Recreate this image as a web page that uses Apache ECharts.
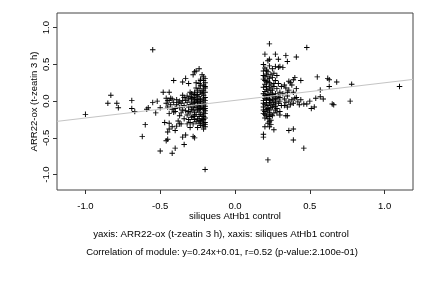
<!DOCTYPE html>
<html>
<head>
<meta charset="utf-8">
<script src="https://cdn.jsdelivr.net/npm/echarts@6/dist/echarts.min.js"></script>
<style>html,body{margin:0;padding:0;background:#fff;}#c{width:432px;height:288px;}</style>
</head>
<body>
<div id="c"></div>
<script>
// ---- data ----
const xTicks = [-1.0, -0.5, 0.0, 0.5, 1.0];
const yTicks = [-1.0, -0.5, 0.0, 0.5, 1.0];
const xTitle = 'siliques AtHb1 control';
const yTitle = 'ARR22-ox (t-zeatin 3 h)';
const subtitle1 = 'yaxis: ARR22-ox (t-zeatin 3 h), xaxis: siliques AtHb1 control';
const subtitle2 = 'Correlation of module: y=0.24x+0.01, r=0.52 (p-value:2.100e-01)';
const fitSlope = 0.24;
const fitIntercept = 0.01;

const leftCluster = [
[-0.20,0.25],[-0.21,0.22],[-0.20,0.18],[-0.21,0.15],[-0.20,0.12],[-0.22,0.10],[-0.21,0.08],[-0.20,0.05],[-0.21,0.03],[-0.20,0.01],[-0.22,-0.01],[-0.20,-0.03],[-0.21,-0.05],[-0.20,-0.07],[-0.22,-0.09],[-0.21,-0.11],[-0.20,-0.13],[-0.21,-0.15],[-0.20,-0.17],[-0.22,-0.19],[-0.21,-0.21],[-0.20,-0.23],[-0.21,-0.25],[-0.22,-0.27],[-0.20,-0.29],[-0.21,-0.31],[-0.22,-0.33],[-0.20,-0.35],[-0.21,-0.38],[-0.20,0.31],[-0.21,0.28],[-0.20,0.20],[-0.22,0.14],[-0.20,-0.10],[-0.22,-0.24],[-0.20,-0.32],
[-0.23,0.21],[-0.24,0.17],[-0.23,0.12],[-0.25,0.09],[-0.24,0.06],[-0.23,0.03],[-0.24,0.00],[-0.25,-0.02],[-0.23,-0.04],[-0.24,-0.07],[-0.23,-0.10],[-0.25,-0.12],[-0.24,-0.15],[-0.23,-0.18],[-0.24,-0.21],[-0.25,-0.24],[-0.23,-0.27],[-0.24,-0.30],[-0.23,-0.33],[-0.25,0.14],[-0.24,0.24],[-0.23,0.28],[-0.25,-0.06],[-0.24,-0.26],[-0.23,0.00],[-0.25,0.02],[-0.24,-0.11],
[-0.26,0.18],[-0.27,0.12],[-0.26,0.08],[-0.28,0.05],[-0.27,0.02],[-0.26,-0.01],[-0.28,-0.03],[-0.27,-0.06],[-0.26,-0.09],[-0.28,-0.12],[-0.27,-0.15],[-0.26,-0.18],[-0.28,-0.21],[-0.27,-0.25],[-0.26,-0.28],[-0.28,-0.31],[-0.27,0.09],[-0.26,0.03],[-0.28,-0.08],[-0.27,-0.19],[-0.26,0.25],[-0.27,-0.02],
[-0.29,0.10],[-0.30,0.06],[-0.31,0.03],[-0.29,0.00],[-0.32,-0.02],[-0.30,-0.05],[-0.31,-0.08],[-0.29,-0.11],[-0.33,-0.13],[-0.30,-0.16],[-0.32,-0.19],[-0.29,-0.22],[-0.31,-0.25],[-0.30,-0.29],[-0.32,-0.31],[-0.29,0.04],[-0.33,0.01],[-0.31,-0.14],[-0.30,0.12],[-0.32,0.07],
[-0.34,0.05],[-0.35,0.01],[-0.36,-0.03],[-0.34,-0.06],[-0.37,-0.09],[-0.35,-0.12],[-0.38,-0.02],[-0.36,-0.16],[-0.39,-0.05],[-0.37,-0.20],[-0.34,-0.24],[-0.40,-0.10],[-0.38,-0.27],[-0.35,0.08],[-0.39,0.02],[-0.36,-0.31],[-0.40,-0.14],[-0.37,0.00],
[-0.41,-0.02],[-0.42,0.03],[-0.43,-0.05],[-0.44,0.01],[-0.45,-0.08],[-0.42,-0.11],[-0.43,0.04],[-0.41,-0.15],[-0.46,-0.03],[-0.44,-0.17]
];

const rightCluster = [
[0.19,0.50],[0.20,0.45],[0.19,0.41],[0.21,0.37],[0.20,0.33],[0.19,0.30],[0.21,0.26],[0.20,0.23],[0.19,0.19],[0.21,0.16],[0.20,0.13],[0.19,0.10],[0.21,0.07],[0.20,0.04],[0.19,0.01],[0.21,-0.02],[0.20,-0.05],[0.19,-0.08],[0.21,-0.11],[0.20,-0.14],[0.19,-0.17],[0.21,-0.20],[0.20,-0.23],[0.19,-0.03],[0.20,0.08],[0.21,0.20],[0.19,0.35],[0.20,-0.18],[0.21,0.02],[0.19,-0.12],[0.20,0.28],[0.21,0.42],
[0.22,0.55],[0.23,0.48],[0.22,0.40],[0.24,0.36],[0.23,0.31],[0.22,0.27],[0.24,0.22],[0.23,0.18],[0.22,0.14],[0.24,0.11],[0.23,0.07],[0.22,0.04],[0.24,0.01],[0.23,-0.02],[0.22,-0.06],[0.24,-0.09],[0.23,-0.12],[0.22,-0.15],[0.24,-0.18],[0.23,-0.21],[0.22,-0.24],[0.24,-0.26],[0.23,0.02],[0.22,0.09],[0.24,-0.04],[0.23,0.25],[0.22,-0.10],[0.24,0.15],[0.23,-0.16],[0.22,0.33],
[0.25,0.44],[0.26,0.38],[0.25,0.32],[0.27,0.28],[0.26,0.20],[0.25,0.15],[0.27,0.10],[0.26,0.06],[0.25,0.02],[0.27,-0.01],[0.26,-0.05],[0.25,-0.08],[0.27,-0.12],[0.26,-0.16],[0.25,-0.20],[0.27,0.04],[0.26,-0.02],[0.25,0.09],[0.27,-0.07],[0.26,0.24],
[0.28,0.35],[0.29,0.24],[0.28,0.17],[0.30,0.12],[0.29,0.07],[0.28,0.03],[0.30,0.00],[0.29,-0.03],[0.31,-0.06],[0.28,-0.10],[0.30,-0.14],[0.29,0.46],[0.31,0.20],[0.28,-0.16],[0.30,0.05],
[0.32,0.10],[0.33,0.03],[0.34,-0.02],[0.35,0.07],[0.36,0.15],[0.37,-0.05],[0.33,0.22],[0.38,0.02],[0.35,-0.08],[0.39,0.12],[0.36,0.00],[0.40,0.04],[0.34,0.18],[0.37,0.25],[0.39,-0.03],[0.41,0.05],[0.42,-0.01],[0.43,-0.05],[0.44,0.02],[0.38,0.22],[0.40,0.32],[0.36,0.27],[0.41,0.17],[0.33,-0.06],[0.32,0.46],[0.35,0.12]
];

const leftOutliers = [
[-1.00,-0.18],[-0.85,-0.03],[-0.83,0.08],[-0.79,-0.03],[-0.78,-0.09],[-0.69,0.01],[-0.69,-0.10],[-0.67,-0.14],[-0.59,-0.11],[-0.58,-0.09],[-0.60,-0.32],[-0.62,-0.48],[-0.55,0.70],[-0.55,-0.02],[-0.52,0.00],[-0.53,-0.16],[-0.50,-0.68],[-0.50,-0.09],[-0.48,0.12],[-0.46,0.04],[-0.45,0.01],[-0.44,0.12],[-0.47,-0.29],[-0.45,-0.42],[-0.46,-0.54],[-0.45,-0.52],[-0.42,-0.71],[-0.41,0.28],[-0.40,-0.64],[-0.44,-0.38],[-0.44,-0.30],[-0.39,-0.34],[-0.35,0.26],[-0.34,-0.59],[-0.35,-0.49],[-0.33,-0.46],[-0.33,0.31],[-0.31,0.24],[-0.28,0.36],[-0.27,0.40],[-0.26,0.41],[-0.24,0.44],[-0.28,-0.48],[-0.27,-0.50],[-0.20,-0.93],[-0.22,0.36],[-0.21,0.33],[-0.23,0.30],[-0.42,-0.35],[-0.40,-0.40],[-0.37,-0.31],[-0.30,-0.36],[-0.25,-0.36]
];

const rightOutliers = [
[0.23,0.78],[0.20,0.64],[0.23,0.57],[0.27,0.64],[0.29,0.57],[0.34,0.62],[0.35,0.54],[0.41,0.60],[0.48,0.73],[0.27,0.47],[0.30,0.47],[0.39,0.29],[0.44,0.28],[0.55,0.33],[0.62,0.31],[0.63,0.29],[0.68,0.26],[0.78,0.23],[1.10,0.20],[0.77,0.00],[0.63,0.20],[0.57,0.15],[0.57,0.06],[0.59,0.03],[0.54,0.04],[0.50,0.00],[0.65,-0.04],[0.66,-0.05],[0.53,-0.08],[0.51,-0.10],[0.46,-0.04],[0.48,-0.04],[0.39,-0.38],[0.36,-0.40],[0.39,-0.53],[0.46,-0.64],[0.22,-0.80],[0.19,-0.45],[0.19,-0.49],[0.20,-0.35],[0.23,-0.28],[0.23,-0.35],[0.26,-0.39],[0.30,-0.19],[0.34,-0.20],[0.35,-0.20],[0.24,-0.32],[0.22,-0.30]
];

// ---- chart ----
const xMin = -1.19, xMax = 1.19, yMin = -1.21, yMax = 1.2;
const FONT = 'Liberation Sans';
const plus = 'path://M-0.17,-1L0.17,-1L0.17,-0.17L1,-0.17L1,0.17L0.17,0.17L0.17,1L-0.17,1L-0.17,0.17L-1,0.17L-1,-0.17L-0.17,-0.17Z';
const allPoints = leftOutliers.concat(leftCluster, rightCluster, rightOutliers);
const fitLine = [[xMin, fitSlope * xMin + fitIntercept], [xMax, fitSlope * xMax + fitIntercept]];

const chart = echarts.init(document.getElementById('c'), null, {renderer: 'canvas'});
chart.setOption({
  animation: false,
  backgroundColor: '#fff',
  textStyle: {fontFamily: FONT},
  grid: {left: 57, right: 19, top: 13, bottom: 98, show: true, borderColor: '#444', borderWidth: 1, backgroundColor: 'transparent'},
  xAxis: {
    type: 'value', min: xMin, max: xMax,
    name: xTitle, nameLocation: 'middle', nameGap: 21, nameMoveOverlap: false,
    nameTextStyle: {fontFamily: FONT, fontSize: 9.5, color: '#000'},
    axisLine: {show: false, onZero: false},
    axisTick: {show: true, length: 4, lineStyle: {color: '#333', width: 1}, customValues: xTicks},
    axisLabel: {fontFamily: FONT, fontSize: 9.5, color: '#000', margin: 11, customValues: xTicks,
      formatter: v => v.toFixed(1)},
    splitLine: {show: false}
  },
  yAxis: {
    type: 'value', min: yMin, max: yMax,
    name: yTitle, nameLocation: 'middle', nameGap: 18, nameRotate: 90, nameMoveOverlap: false,
    nameTextStyle: {fontFamily: FONT, fontSize: 9.5, color: '#000'},
    axisLine: {show: false, onZero: false},
    axisTick: {show: true, length: 4, lineStyle: {color: '#333', width: 1}, customValues: yTicks},
    axisLabel: {fontFamily: FONT, fontSize: 9.5, color: '#000', margin: 6, rotate: 90, customValues: yTicks,
      formatter: v => v.toFixed(1)},
    splitLine: {show: false}
  },
  series: [
    {type: 'scatter', data: allPoints, symbol: plus, symbolSize: 5.5,
     itemStyle: {color: '#000', opacity: 1}, silent: true, z: 2},
    {type: 'line', data: fitLine, symbol: 'none', silent: true, z: 3,
     lineStyle: {color: '#c4c4c4', width: 1}}
  ],
  graphic: [
    {type: 'text', x: 221, y: 234, silent: true,
     style: {text: subtitle1, fontFamily: FONT, fontSize: 9.7, fill: '#000', textAlign: 'center', textVerticalAlign: 'middle'}},
    {type: 'text', x: 222, y: 252, silent: true,
     style: {text: subtitle2, fontFamily: FONT, fontSize: 9.5, fill: '#000', textAlign: 'center', textVerticalAlign: 'middle'}}
  ]
});
</script>
</body>
</html>
